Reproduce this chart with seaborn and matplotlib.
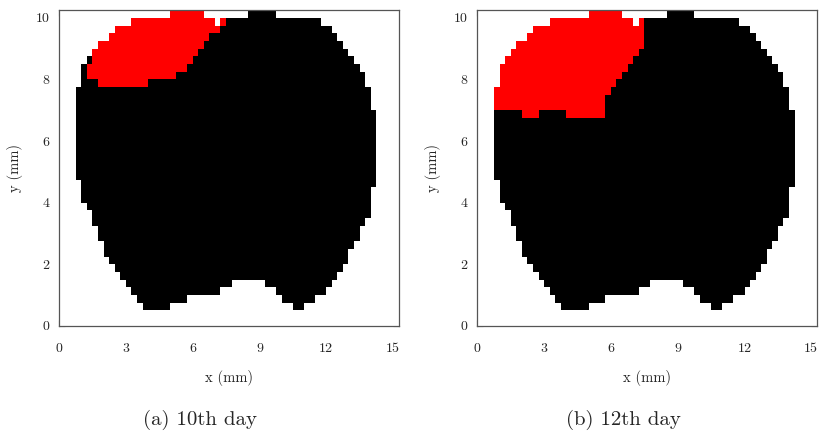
import numpy as np
import matplotlib
matplotlib.use("Agg")
import matplotlib.pyplot as plt
from matplotlib.colors import ListedColormap
import seaborn as sns

# grid of 0.25 mm cells: 41 rows (y 0..10.25 mm), 61 columns (x 0..15.25 mm)
CELL_MM = 0.25
N_ROWS, N_COLS = 41, 61

# outline of the tissue, one entry per row (rows 2..40): first and last filled column
OUTLINE_ROWS = list(range(2, 41))
OUTLINE_LEFT = [15, 14, 13, 12, 11, 10, 9, 8, 8, 7, 7, 6, 6, 5, 4, 4, 4,
                3, 3, 3, 3, 3, 3, 3, 3, 3, 3, 3, 3,
                4, 4, 4, 5, 6, 7, 9, 10, 13, 20]
OUTLINE_RIGHT = [43, 45, 47, 48, 49, 50, 51, 51, 52, 53, 53, 54,
                 55, 55, 55, 55,
                 56, 56, 56, 56, 56, 56, 56, 56, 56, 56,
                 55, 55, 55, 54, 54, 53, 52, 51, 50, 49, 48, 46, 38]

# bottom notches: (first column, last column, lowest filled row)
BOTTOM_SEGMENTS = [(15, 19, 2), (20, 22, 3), (23, 28, 4), (29, 30, 5),
                   (31, 36, 6), (37, 38, 5), (39, 39, 4), (40, 41, 3),
                   (42, 43, 2)]

# empty cells inside the top rows: (row, first column, last column)
TOP_GAPS = [(40, 26, 33), (39, 28, 28)]

# red region per panel: (row, first column, last column)
RED_DAY10 = [(31, 7, 15), (32, 5, 20), (33, 5, 22), (34, 6, 23), (35, 6, 24),
             (36, 7, 25), (37, 9, 26), (38, 10, 28), (39, 13, 27), (39, 29, 29),
             (40, 20, 25)]
RED_DAY12 = [(27, 8, 10), (27, 16, 22), (28, 3, 22), (29, 3, 22), (30, 3, 23),
             (31, 4, 24), (32, 4, 25), (33, 4, 26), (34, 5, 27), (35, 6, 28),
             (36, 7, 29), (37, 9, 29), (38, 10, 29), (39, 13, 27), (39, 29, 29),
             (40, 20, 25)]

X_TICKS = [0, 3, 6, 9, 12, 15]
Y_TICKS = [0, 2, 4, 6, 8, 10]
CAPTIONS = ["(a) 10th day", "(b) 12th day"]


def build_grid(red_cells):
    grid = np.zeros((N_ROWS, N_COLS))
    for r, c0, c1 in zip(OUTLINE_ROWS, OUTLINE_LEFT, OUTLINE_RIGHT):
        grid[r, c0:c1 + 1] = 1
    for c0, c1, low in BOTTOM_SEGMENTS:
        grid[:low, c0:c1 + 1] = 0
    for r, c0, c1 in TOP_GAPS:
        grid[r, c0:c1 + 1] = 0
    for r, c0, c1 in red_cells:
        grid[r, c0:c1 + 1] = 2
    return grid


sns.set_style("ticks")
plt.rcParams["font.family"] = ["cmr10", "DejaVu Serif"]
plt.rcParams["axes.formatter.use_mathtext"] = True

fig = plt.figure(figsize=(8.25, 4.41), dpi=100)
cmap = ListedColormap(["white", "black", "red"])
frame = "#555555"

lefts = [59 / 825, 477.3 / 825]
cap_x = [200 / 825, 623 / 825]
for i, red in enumerate([RED_DAY10, RED_DAY12]):
    ax = fig.add_axes([lefts[i], 0.261, 0.4116, 0.716])
    sns.heatmap(build_grid(red), ax=ax, cmap=cmap, vmin=0, vmax=2, cbar=False,
                xticklabels=False, yticklabels=False, linewidths=0)
    ax.set_ylim(0, N_ROWS)
    ax.set_xlim(0, N_COLS)
    ax.set_xticks([t / CELL_MM for t in X_TICKS])
    ax.set_xticklabels([str(t) for t in X_TICKS])
    ax.set_yticks([t / CELL_MM for t in Y_TICKS])
    ax.set_yticklabels([str(t) for t in Y_TICKS])
    for s in ax.spines.values():
        s.set_visible(True)
        s.set_color(frame)
        s.set_linewidth(0.9)
    ax.tick_params(direction="in", top=True, right=True, length=4, width=0.8,
                   color=frame, labelsize=10)
    ax.tick_params(axis="x", pad=12)
    ax.tick_params(axis="y", pad=7)
    ax.set_xlabel("x (mm)", fontsize=10.5, labelpad=11)
    ax.set_ylabel("y (mm)", fontsize=10.5, labelpad=9)
    fig.text(cap_x[i], 1 - 420 / 441, CAPTIONS[i], ha="center", va="center",
             fontsize=15)

fig.savefig("out.png", dpi=100)
